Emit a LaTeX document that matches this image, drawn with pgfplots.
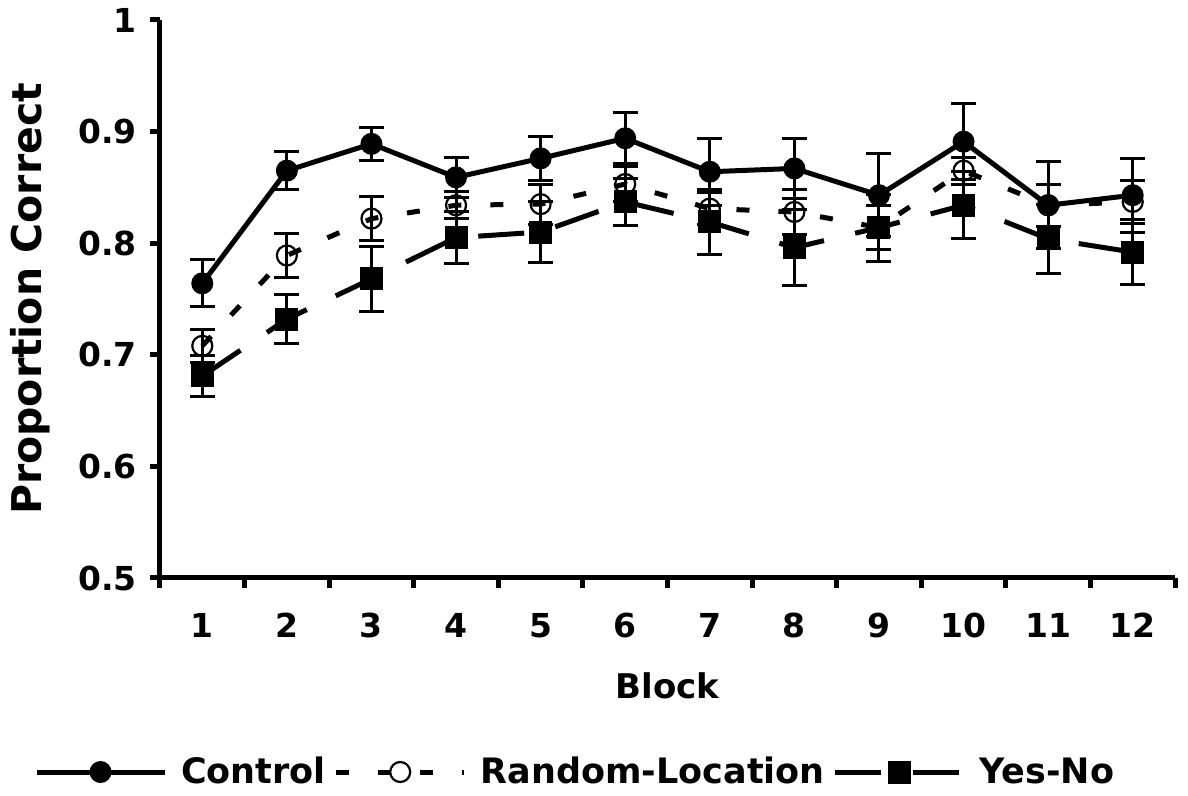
\documentclass[border=0pt]{standalone}
\usepackage{fontspec}
\setmainfont{DejaVu Sans}
\usepackage{pgfplots}
\pgfplotsset{compat=1.18}

% block, control, random-location, yes-no (mean and error)
\pgfplotstableread{
blk ctl   ctle  rl    rle   yn    yne
1   0.764 0.021 0.708 0.015 0.681 0.018
2   0.865 0.017 0.789 0.020 0.732 0.022
3   0.889 0.015 0.822 0.020 0.768 0.029
4   0.859 0.018 0.834 0.012 0.805 0.023
5   0.876 0.020 0.835 0.018 0.810 0.027
6   0.894 0.023 0.853 0.016 0.837 0.021
7   0.864 0.030 0.831 0.014 0.819 0.029
8   0.867 0.027 0.828 0.020 0.796 0.034
9   0.843 0.037 0.814 0.020 0.814 0.030
10  0.891 0.034 0.865 0.012 0.834 0.030
11  0.834 0.039 0.834 0.019 0.804 0.031
12  0.843 0.033 0.837 0.019 0.792 0.029
}\blocks

\begin{document}
\begin{tikzpicture}
\useasboundingbox (-80pt,-109pt) rectangle (514pt,289pt);
\begin{axis}[
 scale only axis, width=507.5pt, height=279pt,
 xmin=0.5, xmax=12.5, ymin=0.5, ymax=1,
 axis x line*=bottom, axis y line*=left,
 axis line style={line width=2.5pt},
 tick align=outside, major tick length=5pt,
 tick style={line width=2.5pt, black},
 xtick={0.5,1.5,2.5,3.5,4.5,5.5,6.5,7.5,8.5,9.5,10.5,11.5,12.5},
 xticklabels={1,2,3,4,5,6,7,8,9,10,11,12},
 x tick label as interval,
 ytick={0.5,0.6,0.7,0.8,0.9,1},
 yticklabels={0.5,0.6,0.7,0.8,0.9,1},
 tick label style={font=\fontsize{16.5}{18}\selectfont\bfseries},
 yticklabel style={xshift=-3pt},
 xticklabel style={yshift=-9pt},
 xlabel={Block}, ylabel={Proportion Correct},
 every axis x label/.style={at={(axis description cs:0.5,0)}, anchor=center, yshift=-54pt, font=\fontsize{17}{20}\selectfont\bfseries},
 every axis y label/.style={at={(axis description cs:-0.128,0.5)}, rotate=90, anchor=center, font=\fontsize{20.5}{23}\selectfont\bfseries},
 legend columns=3,
 legend style={at={(0.41,-0.3477)}, anchor=center, draw=none, font=\fontsize{17.5}{20}\selectfont\bfseries,
   /tikz/every even column/.append style={column sep=2pt},
   /tikz/every odd column/.append style={column sep=5pt}},
 legend image code/.code={\draw[mark repeat=2, mark phase=2] plot coordinates {(0pt,0pt) (32pt,0pt) (64pt,0pt)};},
 error bars/y dir=both, error bars/y explicit,
 error bars/error bar style={line width=1.5pt, solid},
 error bars/error mark options={rotate=90, mark size=6.25pt, line width=1.5pt, solid},
]
\addplot[black, line width=2.5pt, mark=*, mark size=5pt, mark options={solid, line width=1pt}]
 table[x=blk, y=ctl, y error=ctle] {\blocks};
\addlegendentry{Control}
\addplot[black, line width=2.5pt, dash pattern=on 6.5pt off 14.5pt, mark=o, mark size=5pt, mark options={solid, line width=1.1pt}]
 table[x=blk, y=rl, y error=rle] {\blocks};
\addlegendentry{Random-Location}
\addplot[black, line width=2.5pt, dash pattern=on 23pt off 16pt, mark=square*, mark size=5.25pt, mark options={solid, line width=1pt}]
 table[x=blk, y=yn, y error=yne] {\blocks};
\addlegendentry{Yes-No}
\end{axis}
\end{tikzpicture}
\end{document}
